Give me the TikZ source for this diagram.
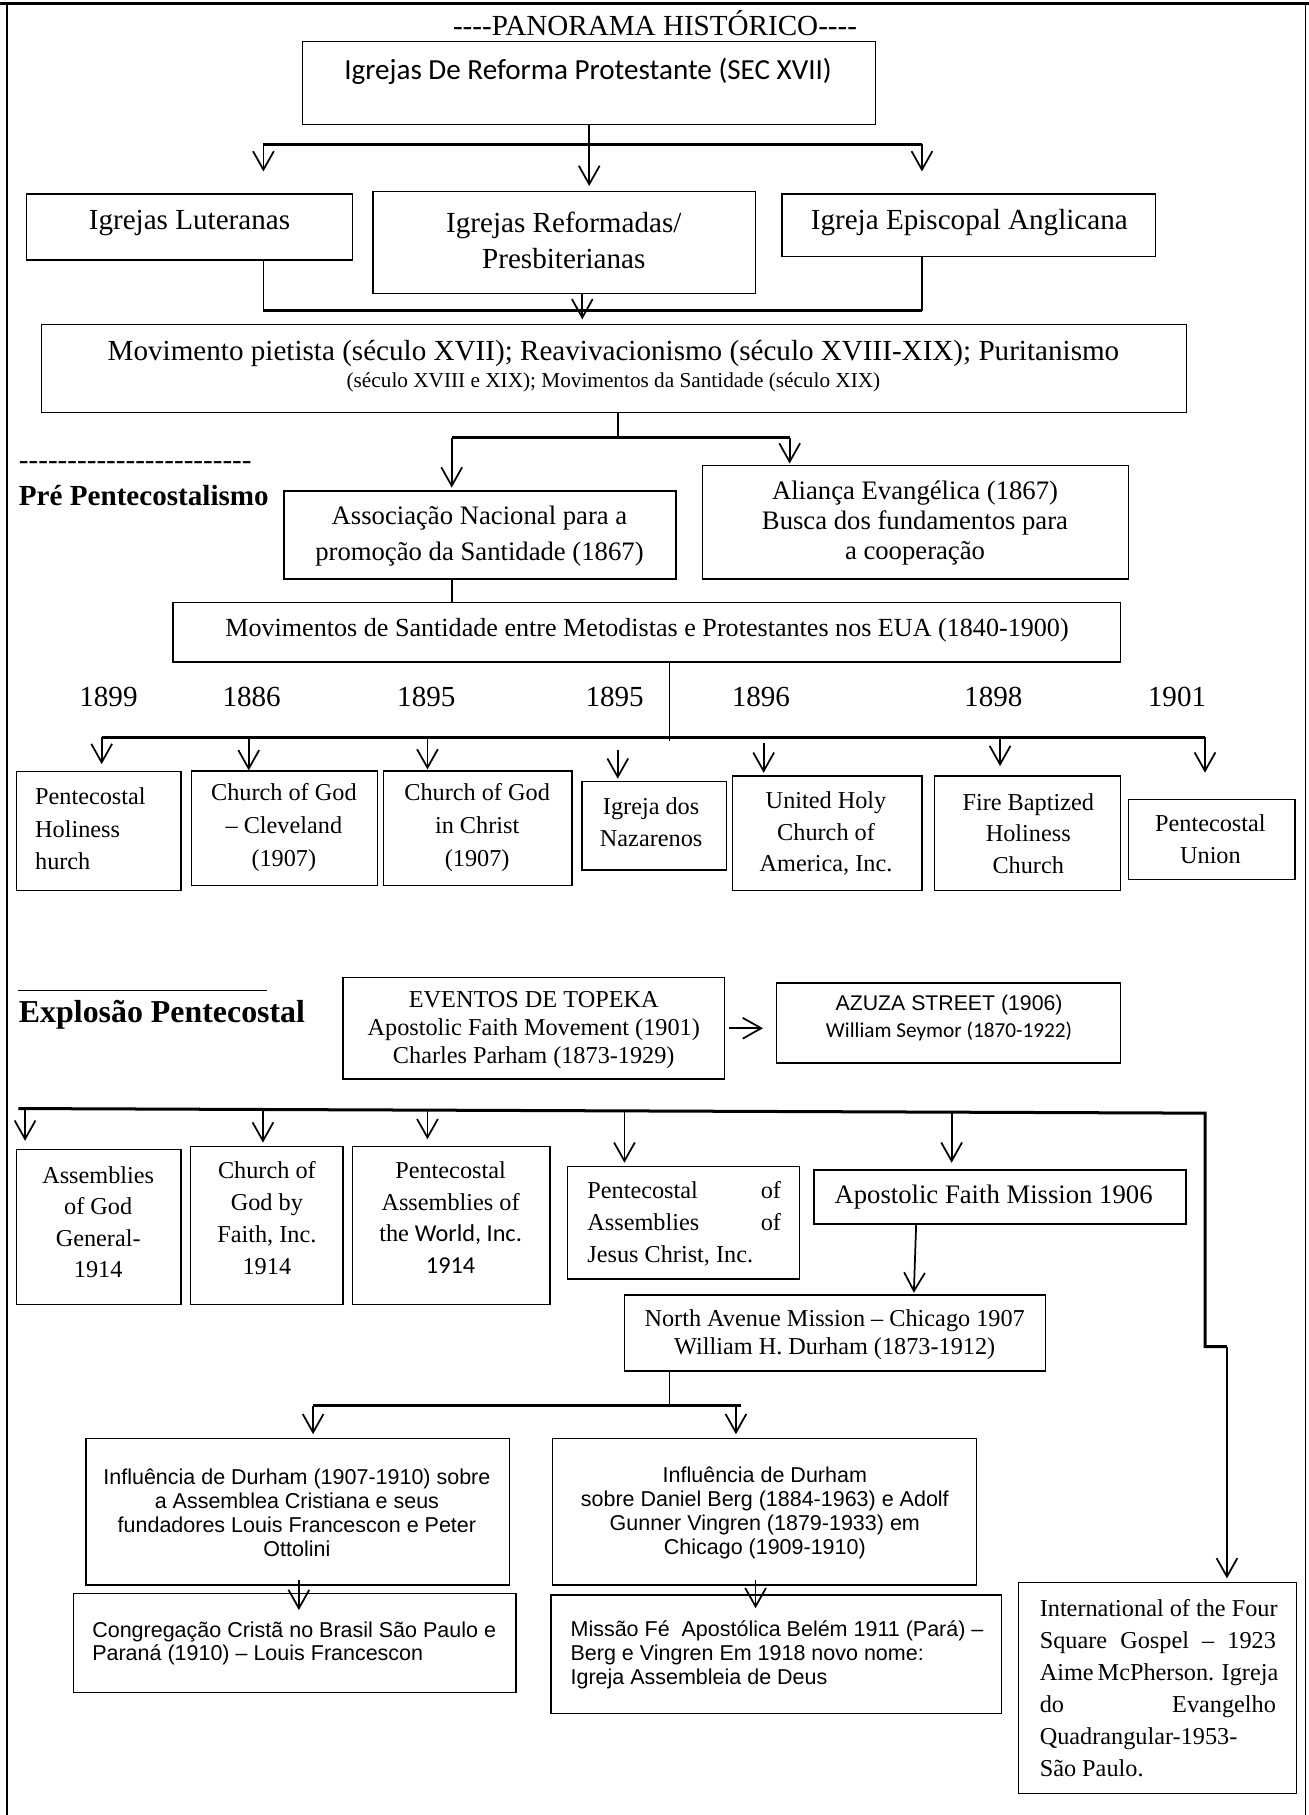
\documentclass[tikz,border=0pt]{standalone}
\usepackage{fontspec}
\setmainfont{Liberation Serif}
\newfontfamily\nolig{Liberation Serif}[Ligatures=TeXOff]
\newfontfamily\calib{Carlito}
\newfontfamily\arial{Liberation Sans}
\usetikzlibrary{arrows.meta,fit}
\newcommand\myfs[2]{\fontsize{#1}{#2}\selectfont}
\tikzset{
  box/.style={draw, line width=0.6pt, inner sep=0pt},
  ln/.style={line width=0.75pt},
  thk/.style={line width=1.3pt},
  arr/.style={line width=0.75pt, -{Straight Barb[length=8pt,width=9pt]}},
  txt/.style={inner sep=0pt, align=center},
  ltxt/.style={inner sep=0pt, align=left, anchor=west},
}
\begin{document}
\begin{tikzpicture}[x=0.5pt,y=-0.5pt]
\useasboundingbox (0,0) rectangle (1133,1571);
% frame
\draw[line width=1.2pt] (0,3) -- (1133,3);
\draw[line width=0.6pt] (6,3) -- (6,1571);
\draw[line width=0.6pt] (1130,3) -- (1130,1571);

% boxes
\node[box, fit={(262,36) (758,108)}] (b1) {};
\node[box, fit={(23,168) (305,225)}] (lut) {};
\node[box, fit={(323,166) (654,254)}] (ref) {};
\node[box, fit={(677,168) (1000,222)}] (ang) {};
\node[box, fit={(36,281) (1027,357)}] (mov) {};
\node[box, fit={(245.7,425) (585,501)}] (ass) {};
\node[box, fit={(608,402.8) (977,501)}] (ali) {};
\node[box, fit={(149.6,521.7) (970,573)}] (mds) {};
\node[box, fit={(14.5,668) (156.8,771)}] (phc) {};
\node[box, fit={(165.5,667.4) (327,766.6)}] (cgc) {};
\node[box, fit={(332,667.4) (495,766.6)}] (cgic) {};
\node[box, fit={(503.6,676.6) (628.6,753)}] (nz) {};
\node[box, fit={(634,671.7) (798,771)}] (uh) {};
\node[box, fit={(809,671.7) (970,771)}] (fb) {};
\node[box, fit={(977,692) (1121,761)}] (pu) {};
\node[box, fit={(297,846) (627,934)}] (ev) {};
\node[box, fit={(672,851) (970,920)}] (az) {};
\node[box, fit={(14.5,995) (156.8,1129)}] (ag) {};
\node[box, fit={(164.7,992.5) (297,1129)}] (cgf) {};
\node[box, fit={(305,992.5) (476,1129)}] (paw) {};
\node[box, fit={(491,1009.8) (692,1107)}] (pajc) {};
\node[box, fit={(704.5,1012.7) (1026.7,1059.4)}] (afm) {};
\node[box, fit={(540.5,1121) (905,1186.7)}] (nam) {};
\node[box, fit={(74.4,1245) (440.8,1372)}] (inf1) {};
\node[box, fit={(478,1245) (845,1372)}] (inf2) {};
\node[box, fit={(63.6,1379) (446.5,1465)}] (cc) {};
\node[box, fit={(477,1380.6) (867,1483)}] (mfa) {};
\node[box, fit={(881.5,1370) (1122,1552.3)}] (fs) {};

% texts
\node[txt, font=\nolig\myfs{12.6}{15}] (title) at (567,20) {----PANORAMA HISTÓRICO----};
\node[txt, font=\calib\myfs{12.6}{15}] (b1t) at (509,62) {Igrejas De Reforma Protestante (SEC XVII)};
\node[txt, font=\myfs{12.6}{15}] (lutt) at (164,193) {Igrejas Luteranas};
\node[txt, font=\myfs{12.6}{15.85}] (reft) at (488,208) {Igrejas Reformadas/\\Presbiterianas};
\node[txt, font=\myfs{12.6}{15}] (angt) at (839,193) {Igreja Episcopal Anglicana};
\node[txt, font=\myfs{12.6}{15}] (movt1) at (531,306) {Movimento pietista (século XVII); Reavivacionismo (século XVIII-XIX); Puritanismo};
\node[txt, font=\myfs{9.2}{11}] (movt2) at (531,331) {(século XVIII e XIX); Movimentos da Santidade (século XIX)};
\node[ltxt, font=\nolig\myfs{12.6}{15}] (dash) at (16,403) {------------------------};
\node[ltxt, font=\bfseries\myfs{12.6}{15}] (pre) at (16,429) {Pré Pentecostalismo};
\node[txt, font=\myfs{11.55}{15.2}] (asst) at (415,464) {Associação Nacional para a\\promoção da Santidade (1867)};
\node[txt, font=\myfs{11.55}{13}] (alit) at (792,453) {Aliança Evangélica (1867)\\Busca dos fundamentos para\\a cooperação};
\node[txt, font=\myfs{11.3}{13}] (mdst) at (560,545.4) {Movimentos de Santidade entre Metodistas e Protestantes nos EUA (1840-1900)};
\foreach \xx/\yr [count=\i] in {93.9/1899, 217.8/1886, 369/1895, 532/1895, 658.6/1896, 859.8/1898, 1018.8/1901}
  \node[txt, font=\myfs{12.6}{15}] (yr\i) at (\xx,603) {\yr};
\node[ltxt, font=\myfs{10.5}{13.9}] (phct) at (30,717.3) {Pentecostal\\Holiness\\hurch};
\node[txt, font=\myfs{10.5}{14.25}] (cgct) at (245.7,716.5) {Church of God\\– Cleveland\\(1907)};
\node[txt, font=\myfs{10.5}{14.25}] (cgict) at (413,716.5) {Church of God\\in Christ\\(1907)};
\node[txt, font=\myfs{10.5}{13.85}] (nzt) at (563.6,712) {Igreja dos\\Nazarenos};
\node[txt, font=\myfs{10.5}{13.7}] (uht) at (715,721.4) {United Holy\\Church of\\America, Inc.};
\node[txt, font=\myfs{10.5}{13.7}] (fbt) at (890,721.4) {Fire Baptized\\Holiness\\Church};
\node[txt, font=\myfs{10.5}{13.7}] (put) at (1047.7,726.4) {Pentecostal\\Union};

\draw[line width=0.6pt] (16,857.5) -- (231,857.5);
\node[ltxt, font=\bfseries\myfs{13.8}{16}] (exp) at (16,878.5) {Explosão Pentecostal};
\node[txt, font=\myfs{10.5}{12.25}] (evt) at (462,891.5) {EVENTOS DE TOPEKA\\Apostolic Faith Movement (1901)\\Charles Parham (1873-1929)};
\node[txt, font=\arial\myfs{9.2}{11}] (azt1) at (821.5,870) {AZUZA STREET (1906)};
\node[txt, font=\calib\myfs{9.2}{11}] (azt2) at (821.5,893) {William Seymor (1870-1922)};
\node[txt, font=\myfs{10.5}{13.65}] (agt) at (85,1058) {Assemblies\\of God\\General-\\1914};
\node[txt, font=\myfs{10.5}{13.9}] (cgft) at (231,1054.4) {Church of\\God by\\Faith, Inc.\\1914};
\node[txt, font=\myfs{10.5}{13.7}] (pawt) at (390,1054) {Pentecostal\\Assemblies of\\the {\calib World, Inc.}\\{\calib 1914}};
\node[ltxt, font=\myfs{10.5}{13.9}] (pajct) at (508,1059.2) {\makebox[83.8pt][l]{Pentecostal\hfill of}\\\makebox[83.8pt][l]{Assemblies\hfill of}\\Jesus Christ, Inc.};
\node[txt, font=\myfs{11.55}{14}] (afmt) at (860,1036) {Apostolic Faith Mission 1906};
\node[txt, font=\myfs{10.5}{12}] (namt) at (722.5,1155) {North Avenue Mission – Chicago 1907\\William H. Durham (1873-1912)};
\node[txt, font=\arial\myfs{9.3}{10.45}] (inf1t) at (257,1309.4) {Influência de Durham (1907-1910) sobre\\a Assemblea Cristiana e seus\\fundadores Louis Francescon e Peter\\Ottolini};
\node[txt, font=\arial\myfs{9.3}{10.45}] (inf2t) at (662,1309.4) {Influência de Durham\\sobre Daniel Berg (1884-1963) e Adolf\\Gunner Vingren (1879-1933) em\\Chicago (1909-1910)};
\node[ltxt, font=\arial\myfs{9.3}{10.1}] (cct) at (79.5,1422.5) {Congregação Cristã no Brasil São Paulo e\\Paraná (1910) – Louis Francescon};
\node[ltxt, font=\arial\myfs{9.3}{10.25}] (mfat) at (493.5,1432.3) {Missão Fé~ Apostólica Belém 1911 (Pará) –\\Berg e Vingren Em 1918 novo nome:\\Igreja Assembleia de Deus};
\node[ltxt, font=\myfs{10.5}{13.87}] (fst) at (899.6,1461.3) {International of the Four\\\makebox[102.2pt][s]{Square Gospel – 1923}\\\makebox[102.2pt][s]{Aime McPherson. Igreja}\\\makebox[102.2pt][s]{do Evangelho}\\Quadrangular-1953-\\São Paulo.};

% connectors: top
\draw[arr, shorten >=2.2pt] (b1.south) -- (b1.south |- ref.north);
\coordinate (f1l) at (228,125); \coordinate (f1r) at (798,125);
\draw[thk] (f1l) -- (f1r);
\draw[arr, shorten >=9.5pt] (f1l) -- (f1l |- lut.north);
\draw[arr, shorten >=9.5pt] (f1r) -- (f1r |- ang.north);
\coordinate (c2l) at (228,269); \coordinate (c2r) at (798,269); \coordinate (c2m) at (504,269);
\draw[ln] (lut.south -| c2l) -- (c2l);
\draw[ln] (ang.south -| c2r) -- (c2r);
\draw[thk] (c2l) -- (c2r);
\draw[arr, shorten >=2pt] (ref.south -| c2m) -- (mov.north -| c2m);
% movimento fan
\coordinate (c3) at (535,379); \coordinate (c3l) at (391,379); \coordinate (c3r) at (683.5,379);
\draw[ln] (mov.south -| c3) -- (c3);
\draw[thk] (c3l) -- (c3r);
\draw[arr, shorten >=1.2pt] (c3l) -- (c3l |- ass.north);
\draw[arr, shorten >=0.5pt] (c3r) -- (c3r |- ali.north);
\draw[ln] (ass.south -| c3l) -- (mds.north -| c3l);
% santidade fan
\coordinate (c4) at (579.5,641); \coordinate (c4l) at (88,638.3); \coordinate (c4r) at (1043,638.3);
\draw[ln] (mds.south -| c4) -- (c4);
\draw[thk] (c4l) -- (c4r);
\coordinate (d1) at (88,638.3); \coordinate (d2) at (215.3,638.3); \coordinate (d3) at (370,638.3);
\coordinate (d4) at (534.7,649); \coordinate (d5) at (661,643.5); \coordinate (d6) at (865.6,638.3);
\coordinate (d7) at (1043,638.3);
\draw[arr, shorten >=3pt] (d1) -- (d1 |- phc.north);
\draw[arr] (d2) -- (d2 |- cgc.north);
\draw[arr, shorten >=0.4pt] (d3) -- (d3 |- cgic.north);
\draw[arr, shorten >=1pt] (d4) -- (d4 |- nz.north);
\draw[arr, shorten >=1.1pt] (d5) -- (d5 |- uh.north);
\draw[arr, shorten >=4pt] (d6) -- (d6 |- fb.north);
\draw[arr, shorten >=11.3pt] (d7) -- (d7 |- pu.north);
% explosao
\draw[arr, shorten <=1.5pt, shorten >=5.5pt] (ev.east) -- (az.west |- ev.east);
\coordinate (L0) at (16,959.5); \coordinate (L1) at (1043,963.5);
\coordinate (L2) at (1043,1165.6); \coordinate (L3) at (1062,1165.6);
\draw[thk] (L0) -- (L1) -- (L2) -- (L3);
\draw[arr, shorten >=1.6pt] (L3) -- (L3 |- fs.north);
\coordinate (e1) at (21.7,959.5); \coordinate (e2) at (227.6,960.3); \coordinate (e3) at (370,960.9);
\coordinate (e4) at (540.5,961.5); \coordinate (e5) at (823.7,962.6);
\draw[arr, shorten >=3.5pt] (e1) -- (e1 |- ag.north);
\draw[arr, shorten >=1.45pt] (e2) -- (e2 |- cgf.north);
\draw[arr, shorten >=2.9pt] (e3) -- (e3 |- paw.north);
\draw[arr, shorten >=1.4pt] (e4) -- (e4 |- pajc.north);
\draw[arr, shorten >=2.85pt] (e5) -- (e5 |- afm.north);
\coordinate (p1) at (793,1059.4); \coordinate (p2) at (791,1119);
\draw[arr] (p1) -- (p2);
\coordinate (c5) at (579.5,1216.8); \coordinate (c5l) at (271,1216.8); \coordinate (c5r) at (641,1216.8);
\coordinate (c5a) at (637,1216.8);
\draw[ln] (nam.south -| c5) -- (c5);
\draw[thk] (c5l) -- (c5r);
\draw[arr, shorten >=1.5pt] (c5l) -- (c5l |- inf1.north);
\draw[arr, shorten >=1.5pt] (c5a) -- (c5a |- inf2.north);
\coordinate (q1s) at (258.7,1367.6); \coordinate (q1e) at (258.7,1393.6);
\coordinate (q2s) at (654,1367.6); \coordinate (q2e) at (654,1392);
\draw[arr] (q1s) -- (q1e);
\draw[arr] (q2s) -- (q2e);
\end{tikzpicture}
\end{document}
